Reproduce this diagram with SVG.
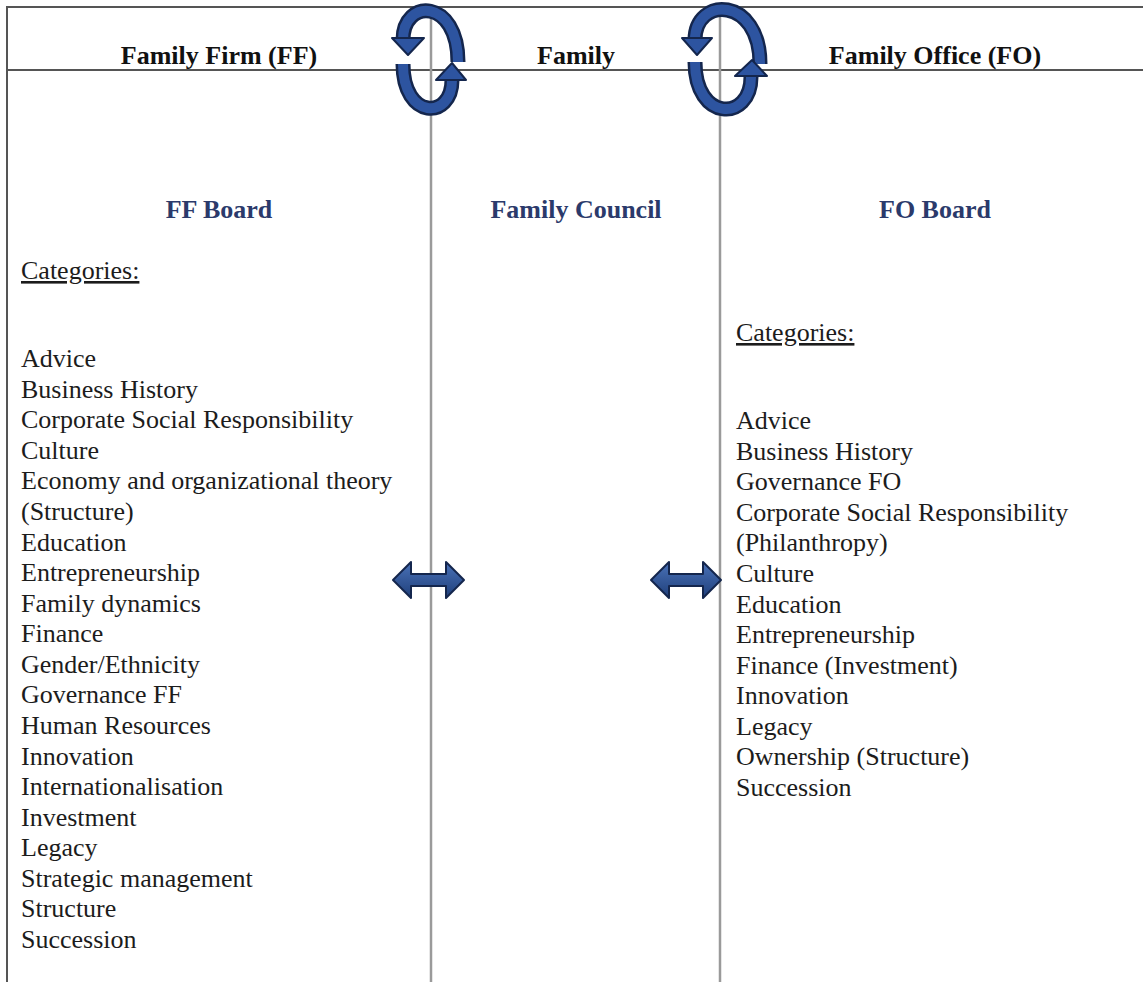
<svg xmlns="http://www.w3.org/2000/svg" width="1143" height="982" viewBox="0 0 1143 982">
<defs>
<linearGradient id="g" x1="0" y1="0" x2="0" y2="1">
<stop offset="0" stop-color="#4a72b8"/>
<stop offset="1" stop-color="#1f3f7a"/>
</linearGradient>
<style>
.t{font-family:"Liberation Serif","Times New Roman",serif;font-size:26px;fill:#1c1c1c}
.h{font-family:"Liberation Serif","Times New Roman",serif;font-size:26px;font-weight:bold;fill:#111;text-anchor:middle}
.b{font-family:"Liberation Serif","Times New Roman",serif;font-size:26px;font-weight:bold;fill:#2b3a6b;text-anchor:middle}
.u{text-decoration:underline}
.rule{stroke:#555;stroke-width:2}
.div{stroke:#9a9a9a;stroke-width:2.5}
.arcO{fill:none;stroke:#14264d;stroke-width:15}
.arcI{fill:none;stroke:#2d54a0;stroke-width:10}
.head{fill:#2d54a0;stroke:#14264d;stroke-width:2;stroke-linejoin:round}
.dbl{fill:url(#g);stroke:#14264d;stroke-width:2;stroke-linejoin:round}
</style>
</defs>
<rect width="1143" height="982" fill="#fff"/>
<g id="frame">
<line class="rule" x1="7" y1="7" x2="1143" y2="7"/>
<line class="rule" x1="7" y1="70" x2="1143" y2="70"/>
<line class="rule" x1="7" y1="6" x2="7" y2="982"/>
<line class="div" x1="431" y1="7" x2="431" y2="982"/>
<line class="div" x1="720" y1="7" x2="720" y2="982"/>
</g>
<g id="headers">
<text class="h" x="219" y="64">Family Firm (FF)</text>
<text class="h" x="576" y="64">Family</text>
<text class="h" x="935" y="64">Family Office (FO)</text>
</g>
<g id="connectors">
<g id="cycle1">
<path class="arcO" d="M 458 62 C 458 -2, 403 -2, 403 40"/>
<path class="arcI" d="M 458 62 C 458 -2, 403 -2, 403 40"/>
<polygon class="head" points="392,38 424,38 408,55"/>
<path class="arcO" d="M 403 64 C 403 120, 452 120, 452 80"/>
<path class="arcI" d="M 403 64 C 403 120, 452 120, 452 80"/>
<polygon class="head" points="436,80 466,80 452,63"/>
</g>
<g id="cycle2">
<path class="arcO" d="M 760 64 C 760 -4, 695 -4, 695 40"/>
<path class="arcI" d="M 760 64 C 760 -4, 695 -4, 695 40"/>
<polygon class="head" points="682,38 712,38 697,55"/>
<path class="arcO" d="M 695 62 C 695 122, 751 122, 751 77"/>
<path class="arcI" d="M 695 62 C 695 122, 751 122, 751 77"/>
<polygon class="head" points="735,76 767,76 752,60"/>
</g>
<polygon id="dbl1" class="dbl" points="393,580 411,562 411,574 446,574 446,562 464,580 446,598 446,586 411,586 411,598"/>
<polygon id="dbl2" class="dbl" points="651,580 669,562 669,574 703,574 703,562 721,580 703,598 703,586 669,586 669,598"/>
</g>
<g id="ff">
<text class="b" x="219" y="218">FF Board</text>
<text class="t u" x="21" y="279">Categories:</text>
<text class="t" x="21" y="367">Advice</text>
<text class="t" x="21" y="397.6">Business History</text>
<text class="t" x="21" y="428.2">Corporate Social Responsibility</text>
<text class="t" x="21" y="458.7">Culture</text>
<text class="t" x="21" y="489.3">Economy and organizational theory</text>
<text class="t" x="21" y="519.9">(Structure)</text>
<text class="t" x="21" y="550.5">Education</text>
<text class="t" x="21" y="581.1">Entrepreneurship</text>
<text class="t" x="21" y="611.6">Family dynamics</text>
<text class="t" x="21" y="642.2">Finance</text>
<text class="t" x="21" y="672.8">Gender/Ethnicity</text>
<text class="t" x="21" y="703.4">Governance FF</text>
<text class="t" x="21" y="734">Human Resources</text>
<text class="t" x="21" y="764.5">Innovation</text>
<text class="t" x="21" y="795.1">Internationalisation</text>
<text class="t" x="21" y="825.7">Investment</text>
<text class="t" x="21" y="856.3">Legacy</text>
<text class="t" x="21" y="886.9">Strategic management</text>
<text class="t" x="21" y="917.4">Structure</text>
<text class="t" x="21" y="948">Succession</text>
</g>
<g id="family">
<text class="b" x="576" y="218">Family Council</text>
</g>
<g id="fo">
<text class="b" x="935" y="218">FO Board</text>
<text class="t u" x="736" y="341">Categories:</text>
<text class="t" x="736" y="429">Advice</text>
<text class="t" x="736" y="459.6">Business History</text>
<text class="t" x="736" y="490.2">Governance FO</text>
<text class="t" x="736" y="520.7">Corporate Social Responsibility</text>
<text class="t" x="736" y="551.3">(Philanthropy)</text>
<text class="t" x="736" y="581.9">Culture</text>
<text class="t" x="736" y="612.5">Education</text>
<text class="t" x="736" y="643.1">Entrepreneurship</text>
<text class="t" x="736" y="673.6">Finance (Investment)</text>
<text class="t" x="736" y="704.2">Innovation</text>
<text class="t" x="736" y="734.8">Legacy</text>
<text class="t" x="736" y="765.4">Ownership (Structure)</text>
<text class="t" x="736" y="796">Succession</text>
</g>
</svg>
